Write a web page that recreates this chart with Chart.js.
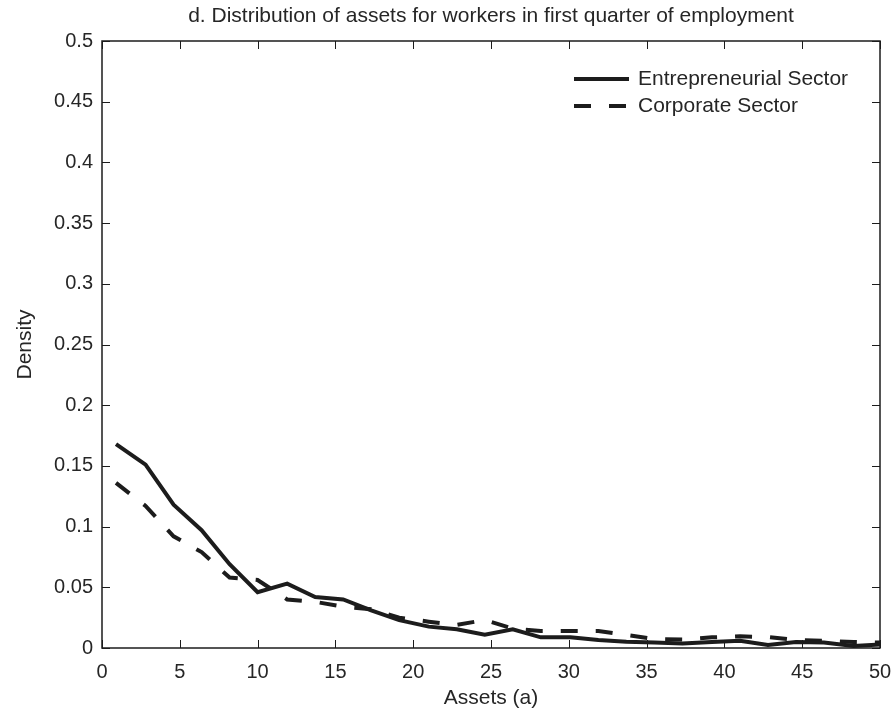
<!DOCTYPE html>
<html lang="en">
<head>
    <meta charset="UTF-8">
    <title>Distribution of assets for workers in first quarter of employment</title>
    <script src="https://cdn.jsdelivr.net/npm/chart.js"></script>
    <style>
        body { margin: 0; background: #fff; }
        #wrap { width: 895px; height: 717px; position: relative; }
    </style>
</head>
<body>
<div id="wrap"><canvas id="assetChart"></canvas></div>
<script>
    // values (bin centres of the histogram)
    const assets = [0.9, 2.8, 4.6, 6.4, 8.2, 10.0, 11.9, 13.7, 15.5, 17.3, 19.1, 21.0, 22.8, 24.6,
                    26.4, 28.2, 30.1, 31.9, 33.7, 35.5, 37.3, 39.2, 41.0, 42.8, 44.6, 46.4, 48.3, 50.1];
    const entrepreneurial = [0.168, 0.151, 0.118, 0.097, 0.069, 0.046, 0.053, 0.042, 0.040, 0.031,
                             0.023, 0.0176, 0.0154, 0.011, 0.0154, 0.0088, 0.0088, 0.0066, 0.0052, 0.0046,
                             0.0038, 0.005, 0.006, 0.0025, 0.005, 0.0045, 0.0016, 0.003];
    const corporate = [0.136, 0.117, 0.092, 0.079, 0.058, 0.056, 0.040, 0.038, 0.034, 0.032,
                       0.025, 0.0217, 0.019, 0.023, 0.016, 0.014, 0.014, 0.014, 0.0107, 0.0074,
                       0.007, 0.0088, 0.0096, 0.009, 0.0066, 0.006, 0.0049, 0.0044];
    const seriesNames = ["Entrepreneurial Sector", "Corporate Sector"];
    const xTicks = [0, 5, 10, 15, 20, 25, 30, 35, 40, 45, 50];
    const yTicks = [0, 0.05, 0.1, 0.15, 0.2, 0.25, 0.3, 0.35, 0.4, 0.45, 0.5];

    const chartTitle = "d. Distribution of assets for workers in first quarter of employment";
    const ink = "#1c1c1c";
    const textInk = "#262626";
    const fontFamily = "'Liberation Sans', Arial, Helvetica, sans-serif";

    function toPoints(ys) {
        return assets.map((x, i) => ({ x: x, y: ys[i] }));
    }

    // MATLAB style box with inward ticks on all four sides, title and in-axes legend
    const matlabFrame = {
        id: 'matlabFrame',
        afterDatasetsDraw(chart) {
            const ctx = chart.ctx;
            const a = chart.chartArea;
            const xs = chart.scales.x, ys = chart.scales.y;
            const tick = 8;
            ctx.save();
            ctx.strokeStyle = ink;
            ctx.lineWidth = 1;
            xTicks.forEach(v => {
                const px = Math.round(xs.getPixelForValue(v)) + 0.5;
                ctx.beginPath();
                ctx.moveTo(px, a.bottom); ctx.lineTo(px, a.bottom - tick);
                ctx.moveTo(px, a.top); ctx.lineTo(px, a.top + tick);
                ctx.stroke();
            });
            yTicks.forEach(v => {
                const py = Math.round(ys.getPixelForValue(v)) + 0.5;
                ctx.beginPath();
                ctx.moveTo(a.left, py); ctx.lineTo(a.left + tick, py);
                ctx.moveTo(a.right, py); ctx.lineTo(a.right - tick, py);
                ctx.stroke();
            });
            ctx.lineWidth = 1.5;
            ctx.strokeRect(a.left, a.top, a.right - a.left, a.bottom - a.top);

            // title
            ctx.fillStyle = textInk;
            ctx.font = "21px " + fontFamily;
            ctx.textAlign = "center";
            ctx.textBaseline = "middle";
            ctx.fillText(chartTitle, (a.left + a.right) / 2, 16);

            // legend
            ctx.textAlign = "left";
            chart.data.datasets.forEach((ds, i) => {
                const y = 79 + i * 27;
                ctx.strokeStyle = ds.borderColor;
                ctx.lineWidth = ds.borderWidth;
                ctx.setLineDash(ds.borderDash || []);
                ctx.beginPath();
                ctx.moveTo(574, y); ctx.lineTo(629, y);
                ctx.stroke();
                ctx.setLineDash([]);
                ctx.fillText(ds.label, 638, y);
            });
            ctx.restore();
        }
    };

    function tickText(v) {
        return String(+v.toFixed(2));
    }

    new Chart(document.getElementById("assetChart"), {
        type: 'line',
        data: {
            datasets: [
                { label: seriesNames[0], data: toPoints(entrepreneurial), borderColor: ink, borderWidth: 4,
                  pointRadius: 0, fill: false, tension: 0, clip: { left: 0, right: 0, top: 5, bottom: 5 } },
                { label: seriesNames[1], data: toPoints(corporate), borderColor: ink, borderWidth: 4,
                  borderDash: [17, 18], pointRadius: 0, fill: false, tension: 0, clip: { left: 0, right: 0, top: 5, bottom: 5 } }
            ]
        },
        options: {
            responsive: true,
            maintainAspectRatio: false,
            animation: false,
            layout: { padding: { top: 41, right: 15, left: 0, bottom: 0 } },
            plugins: {
                legend: { display: false },
                title: { display: false },
                tooltip: { enabled: false }
            },
            scales: {
                x: {
                    type: 'linear', min: 0, max: 50,
                    afterFit(s) { s.height = 69; s.paddingLeft = 0; s.paddingRight = 0; },
                    afterBuildTicks(s) { s.ticks = xTicks.map(v => ({ value: v })); },
                    grid: { display: false, drawTicks: false },
                    border: { display: false },
                    ticks: { padding: 12, color: textInk, font: { size: 20, family: fontFamily }, maxRotation: 0,
                             callback: v => tickText(v) },
                    title: { display: true, text: "Assets (a)", color: textInk, font: { size: 21, family: fontFamily },
                             padding: { top: 0, bottom: 6 } }
                },
                y: {
                    type: 'linear', min: 0, max: 0.5,
                    afterFit(s) { s.width = 102; s.paddingTop = 0; s.paddingBottom = 0; },
                    afterBuildTicks(s) { s.ticks = yTicks.map(v => ({ value: v })); },
                    grid: { display: false, drawTicks: false },
                    border: { display: false },
                    ticks: { padding: 9, color: textInk, font: { size: 20, family: fontFamily },
                             callback: v => tickText(v) },
                    title: { display: true, text: "Density", color: textInk, font: { size: 21, family: fontFamily },
                             padding: { top: 13, bottom: 0 } }
                }
            }
        },
        plugins: [matlabFrame]
    });
</script>
</body>
</html>
